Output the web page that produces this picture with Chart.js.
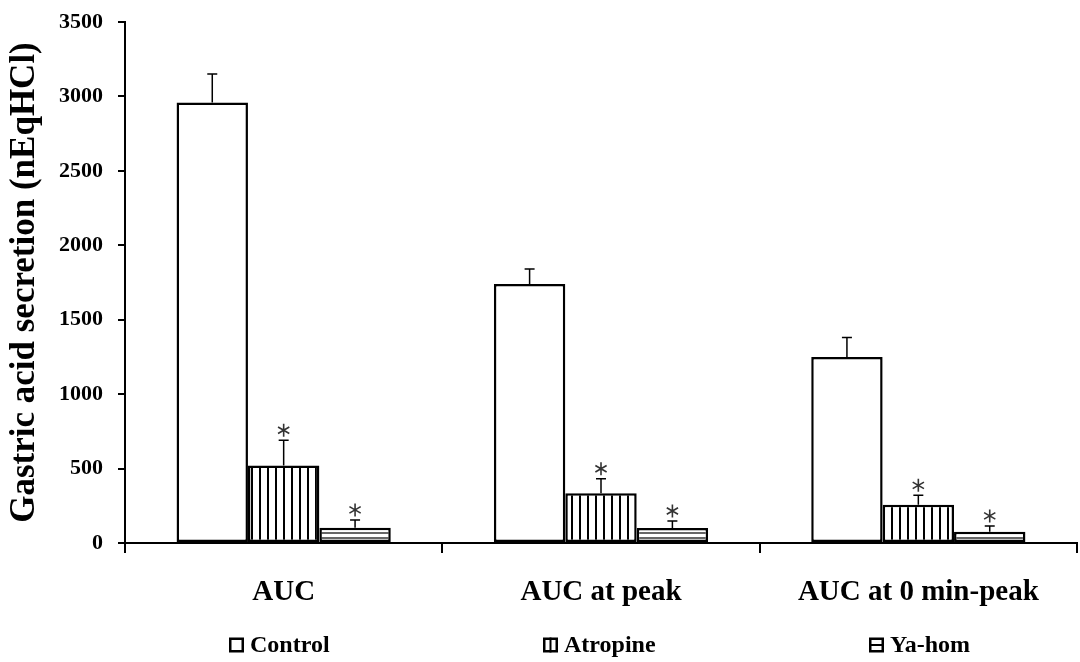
<!DOCTYPE html>
<html lang="en">
<head>
  <meta charset="UTF-8">
  <title>Gastric acid secretion</title>
  <script src="https://cdn.jsdelivr.net/npm/chart.js"></script>
  <style>
    body { margin: 0; background: #fff; }
  </style>
</head>
<body>
  <canvas id="myChart" width="1080" height="662"></canvas>

  <script>
    // data
    const categories = ['AUC', 'AUC at peak', 'AUC at 0 min-peak'];
    const seriesNames = ['Control', 'Atropine', 'Ya-hom'];
    const controlValues = [2960, 1740, 1250];
    const controlErrors = [190, 100, 130];
    const atropineValues = [520, 335, 257];
    const atropineErrors = [170, 97, 63];
    const yahomValues = [103, 100, 75];
    const yahomErrors = [52, 48, 40];
    const significant = [false, true, true]; // asterisk per series
    const yTicks = [0, 500, 1000, 1500, 2000, 2500, 3000, 3500];

    const FONT = "'Liberation Serif', 'Times New Roman', serif";

    // fill patterns
    function verticalPattern() {
      const c = document.createElement('canvas');
      c.width = 8; c.height = 8;
      const g = c.getContext('2d');
      g.fillStyle = '#fff';
      g.fillRect(0, 0, 8, 8);
      g.fillStyle = '#000';
      g.fillRect(3, 0, 2, 8);
      return g.createPattern(c, 'repeat');
    }
    function horizontalPattern() {
      const c = document.createElement('canvas');
      c.width = 5; c.height = 5;
      const g = c.getContext('2d');
      g.fillStyle = '#fff';
      g.fillRect(0, 0, 5, 5);
      g.fillStyle = '#666';
      g.fillRect(0, 2, 5, 2);
      return g.createPattern(c, 'repeat');
    }

    const errorsBySeries = [controlErrors, atropineErrors, yahomErrors];

    function drawAsterisk(ctx, x, y, r) {
      ctx.save();
      ctx.strokeStyle = '#333';
      ctx.lineWidth = 1.6;
      ctx.beginPath();
      for (let k = 0; k < 3; k++) {
        const a = Math.PI / 2 + k * Math.PI / 3;
        ctx.moveTo(x + r * Math.cos(a), y + r * Math.sin(a));
        ctx.lineTo(x - r * Math.cos(a), y - r * Math.sin(a));
      }
      ctx.stroke();
      ctx.restore();
    }

    // error bars (upper only) and asterisks
    const errorBarPlugin = {
      id: 'errorBars',
      afterDatasetsDraw(chart) {
        const ctx = chart.ctx;
        const yScale = chart.scales.y;
        chart.data.datasets.forEach((ds, di) => {
          const meta = chart.getDatasetMeta(di);
          meta.data.forEach((bar, i) => {
            const top = yScale.getPixelForValue(ds.data[i] + errorsBySeries[di][i]);
            ctx.save();
            ctx.strokeStyle = '#000';
            ctx.lineWidth = 1.5;
            ctx.beginPath();
            ctx.moveTo(bar.x, bar.y);
            ctx.lineTo(bar.x, top);
            ctx.moveTo(bar.x - 5, top);
            ctx.lineTo(bar.x + 5, top);
            ctx.stroke();
            ctx.restore();
            if (significant[di]) {
              drawAsterisk(ctx, bar.x, top - 10, 6.5);
            }
          });
        });
      }
    };

    // legend drawn along the bottom
    const legendX = [229, 543, 869];
    const legendY = 645;
    const legendPlugin = {
      id: 'bottomLegend',
      afterDraw(chart) {
        const ctx = chart.ctx;
        ctx.save();
        seriesNames.forEach((name, i) => {
          const x = legendX[i], y = legendY - 7.5;
          ctx.fillStyle = '#fff';
          ctx.fillRect(x, y, 15, 15);
          ctx.strokeStyle = '#000';
          ctx.lineWidth = 2.5;
          ctx.strokeRect(x + 1.25, y + 1.25, 12.5, 12.5);
          ctx.lineWidth = 2;
          if (i === 1) {
            ctx.beginPath(); ctx.moveTo(x + 7.5, y); ctx.lineTo(x + 7.5, y + 15); ctx.stroke();
          } else if (i === 2) {
            ctx.beginPath(); ctx.moveTo(x, y + 7.5); ctx.lineTo(x + 15, y + 7.5); ctx.stroke();
          }
          ctx.fillStyle = '#000';
          ctx.font = 'bold 24px ' + FONT;
          ctx.textAlign = 'left';
          ctx.textBaseline = 'middle';
          ctx.fillText(name, x + 21, legendY + 1);
        });
        ctx.restore();
      }
    };

    const ctx = document.getElementById('myChart').getContext('2d');

    const myChart = new Chart(ctx, {
      type: 'bar',
      data: {
        labels: categories,
        datasets: [
          { label: seriesNames[0], data: controlValues, backgroundColor: '#fff' },
          { label: seriesNames[1], data: atropineValues, backgroundColor: verticalPattern() },
          { label: seriesNames[2], data: yahomValues, backgroundColor: horizontalPattern() }
        ]
      },
      options: {
        responsive: false,
        animation: false,
        devicePixelRatio: 1,
        layout: { padding: { top: 22, right: 3, left: 0, bottom: 0 } },
        datasets: {
          bar: {
            borderColor: '#000',
            borderWidth: 2.5,
            borderSkipped: false,
            categoryPercentage: 0.675,
            barPercentage: 1
          }
        },
        plugins: {
          legend: { display: false },
          tooltip: { enabled: false }
        },
        scales: {
          x: {
            afterFit(scale) { scale.height = 119; },
            grid: {
              display: true,
              offset: true,
              drawOnChartArea: false,
              drawTicks: true,
              tickLength: 10,
              color: '#000',
              lineWidth: 2
            },
            border: { display: true, color: '#000', width: 2 },
            ticks: {
              color: '#000',
              padding: 22,
              font: { family: FONT, size: 29, weight: 'bold' }
            }
          },
          y: {
            min: 0,
            max: 3500,
            afterFit(scale) {
              scale.width = 125;
              scale.paddingTop = 0;
              scale.paddingBottom = 0;
            },
            afterBuildTicks(scale) { scale.ticks = yTicks.map(v => ({ value: v })); },
            grid: {
              display: true,
              drawOnChartArea: false,
              drawTicks: true,
              tickLength: 7,
              color: '#000',
              lineWidth: 2
            },
            border: { display: true, color: '#000', width: 2 },
            ticks: {
              color: '#000',
              padding: 15,
              callback: v => String(v),
              font: { family: FONT, size: 22, weight: 'bold' }
            },
            title: {
              display: true,
              text: 'Gastric acid secretion (nEqHCl)',
              color: '#000',
              padding: { top: 4, bottom: 0 },
              font: { family: FONT, size: 35, weight: 'bold' }
            }
          }
        }
      },
      plugins: [errorBarPlugin, legendPlugin]
    });
  </script>
</body>
</html>
